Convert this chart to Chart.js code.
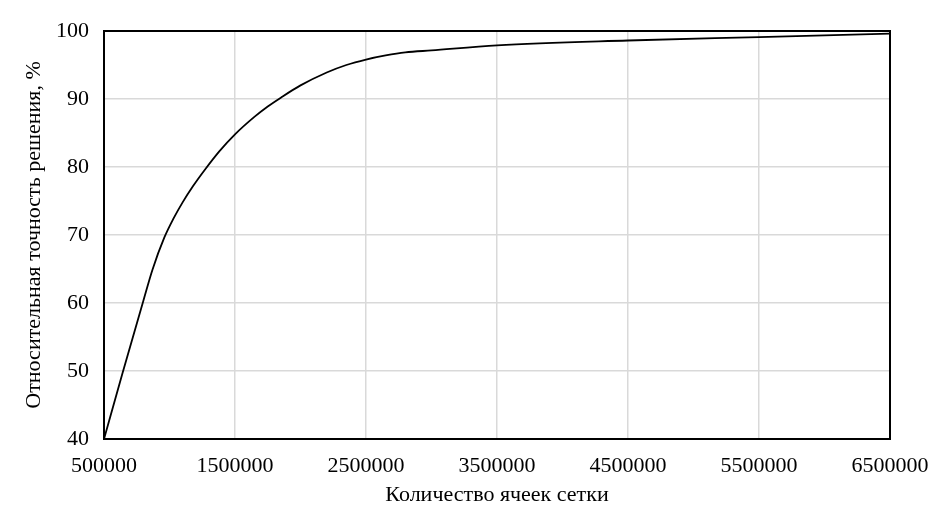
<!DOCTYPE html>
<html>
<head>
<meta charset="utf-8">
<script src="https://cdn.jsdelivr.net/npm/chart.js@4/dist/chart.umd.min.js"></script>
<style>
html,body{margin:0;padding:0;background:#fff;}
#wrap{width:938px;height:520px;}
</style>
</head>
<body>
<div id="wrap"><canvas id="c" width="938" height="520"></canvas></div>
<script>
const cellCounts = [500000, 640000, 800000, 870000, 960000, 1030000, 1100000, 1180000, 1270000, 1380000, 1500000, 1650000, 1750000, 1850000, 2000000, 2200000, 2350000, 2500000, 2650000, 2800000, 3000000, 3500000, 4500000, 5500000, 6500000];
const accuracy   = [40, 49.6, 60.3, 64.9, 69.6, 72.4, 74.8, 77.2, 79.6, 82.3, 84.8, 87.4, 88.9, 90.2, 92.0, 93.9, 95.0, 95.8, 96.4, 96.85, 97.15, 97.9, 98.6, 99.1, 99.6];
const xTicks = [500000, 1500000, 2500000, 3500000, 4500000, 5500000, 6500000];
const yTicks = [40, 50, 60, 70, 80, 90, 100];
const xTitle = 'Количество ячеек сетки';
const yTitle = 'Относительная точность решения, %';

const FONT = '"Liberation Serif", "Times New Roman", serif';

const boxPlugin = {
  id: 'box',
  afterDraw(chart) {
    const a = chart.chartArea, ctx = chart.ctx;
    ctx.save();
    ctx.strokeStyle = '#000';
    ctx.lineWidth = 2;
    ctx.strokeRect(a.left, a.top, a.right - a.left, a.bottom - a.top);
    ctx.restore();
  }
};

new Chart(document.getElementById('c'), {
  type: 'line',
  data: {
    datasets: [{
      data: cellCounts.map((x, i) => ({x: x, y: accuracy[i]})),
      borderColor: '#000',
      borderWidth: 1.8,
      pointRadius: 0,
      fill: false,
      cubicInterpolationMode: 'monotone'
    }]
  },
  options: {
    responsive: false,
    animation: false,
    events: [],
    layout: {padding: {left: 21, right: 48, top: 31, bottom: 6}},
    plugins: {legend: {display: false}, tooltip: {enabled: false}},
    scales: {
      x: {
        type: 'linear',
        min: 500000, max: 6500000,
        afterBuildTicks: (ax) => { ax.ticks = xTicks.map(v => ({value: v})); },
        afterFit: (ax) => { ax.height = 75; ax.paddingLeft = 0; ax.paddingRight = 0; },
        grid: {color: '#d9d9d9', lineWidth: 1.5, drawTicks: false},
        border: {display: false},
        ticks: {color: '#000', font: {family: FONT, size: 22}, padding: 14, maxRotation: 0, autoSkip: false,
                callback: (v) => String(v)},
        title: {display: true, text: xTitle, color: '#000', font: {family: FONT, size: 22}, padding: {top: 4, bottom: 6}}
      },
      y: {
        min: 40, max: 100,
        afterBuildTicks: (ax) => { ax.ticks = yTicks.map(v => ({value: v})); },
        afterFit: (ax) => { ax.width = 83; },
        grid: {color: '#d9d9d9', lineWidth: 1.5, drawTicks: false},
        border: {display: false},
        ticks: {color: '#000', font: {family: FONT, size: 22}, padding: 15, autoSkip: false},
        title: {display: true, text: yTitle, color: '#000', font: {family: FONT, size: 22}, padding: {top: 0, bottom: 4}}
      }
    }
  },
  plugins: [boxPlugin]
});
</script>
</body>
</html>
